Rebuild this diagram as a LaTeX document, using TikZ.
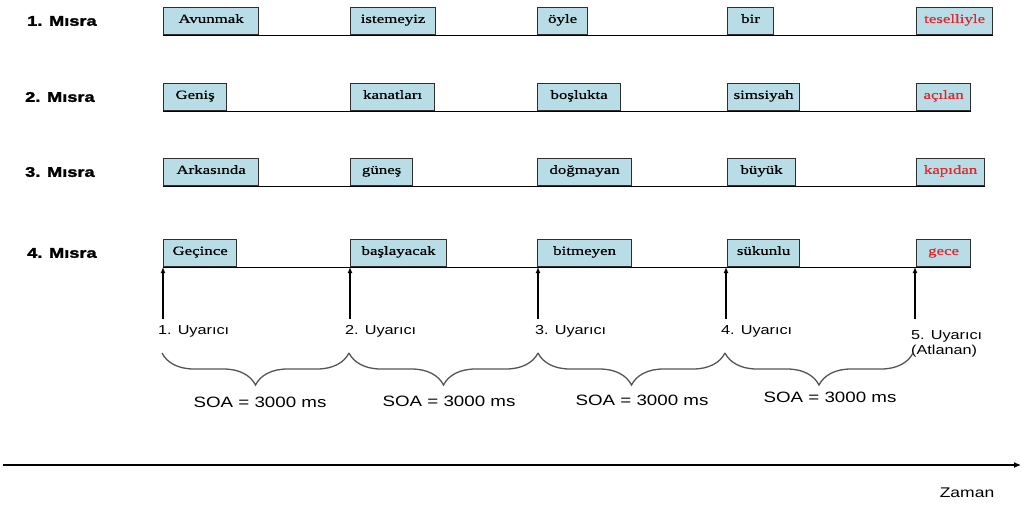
\documentclass[tikz,border=0pt]{standalone}
\usepackage{fontspec}
\setmainfont{Liberation Serif}
\newfontfamily\kelimefont[FakeStretch=1.35,FakeBold=0.5]{Liberation Serif}
\newfontfamily\etiketfont[FakeStretch=1.25]{Liberation Sans}
\newfontfamily\misrafont[FakeStretch=1.3,FakeBold=2]{Liberation Sans}
\usetikzlibrary{
  positioning,
  arrows.meta,
  decorations.pathreplacing
}
\definecolor{kutuMavi}{HTML}{B9DDE6}
\definecolor{kutuCizgi}{HTML}{2F2F2F}
\definecolor{sonKirmizi}{HTML}{E3242B}
\definecolor{parantezGri}{HTML}{555555}

\begin{document}
\begin{tikzpicture}[
  x=1pt, y=-1pt,
  every node/.style={inner sep=0pt},
  misra/.style={
    anchor=west,
    font=\misrafont\bfseries\fontsize{14pt}{16pt}\selectfont
  },
  kelime/.style={
    rectangle, draw=kutuCizgi, fill=kutuMavi, line width=1.2pt,
    anchor=south west, minimum width=#1, minimum height=27pt,
    text height=8pt, text depth=4pt,
    font=\kelimefont\fontsize{12.5pt}{14pt}\selectfont
  },
  kelime/.default=60pt,
  son/.style={text=sonKirmizi},
  cizgi/.style={line width=1pt},
  ok/.style={-{Latex[length=6pt,width=5pt]}, line width=1.2pt},
  uyari/.style={
    anchor=west, align=left,
    font=\etiketfont\fontsize{13pt}{15pt}\selectfont
  },
  parantez/.style={
    decorate, decoration={brace, mirror, amplitude=32pt},
    draw=parantezGri, line width=1.3pt
  },
  soa/.style={font=\etiketfont\fontsize{15pt}{17pt}\selectfont},
  eksen/.style={-{Latex[length=7pt,width=6pt]}, line width=1.2pt}
]
 \useasboundingbox (0,0) rectangle (1021,509);

 % Row 1 -- 5 words
 \node[misra]                   (m1) at ( 27, 21) {1. Mısra};
 \node[kelime=95pt]             (a1) at (163, 35) {Avunmak};
 \node[kelime=85pt]             (a2) at (350, 35) {istemeyiz};
 \node[kelime=50pt]             (a3) at (537, 35) {öyle};
 \node[kelime=46pt]             (a4) at (727, 35) {bir};
 \node[kelime=76pt, son]        (a5) at (916, 35) {teselliyle};
 \draw[cizgi] (a1.south west) -- (a5.south east);

 % Row 2 -- 5 words
 \node[misra]                   (m2) at ( 25, 97) {2. Mısra};
 \node[kelime=63pt]             (b1) at (163,111) {Geniş};
 \node[kelime=84pt]             (b2) at (350,111) {kanatları};
 \node[kelime=83pt]             (b3) at (537,111) {boşlukta};
 \node[kelime=72pt]             (b4) at (727,111) {simsiyah};
 \node[kelime=54pt, son]        (b5) at (916,111) {açılan};
 \draw[cizgi] (b1.south west) -- (b5.south east);

 % Row 3 -- 5 words
 \node[misra]                   (m3) at ( 25,172) {3. Mısra};
 \node[kelime=95pt]             (c1) at (163,186) {Arkasında};
 \node[kelime=62pt]             (c2) at (350,186) {güneş};
 \node[kelime=94pt]             (c3) at (537,186) {doğmayan};
 \node[kelime=68pt]             (c4) at (727,186) {büyük};
 \node[kelime=68pt, son]        (c5) at (916,186) {kapıdan};
 \draw[cizgi] (c1.south west) -- (c5.south east);

 % Row 4 -- 5 words, each one a stimulus
 \node[misra]                   (m4) at ( 27,253) {4. Mısra};
 \node[kelime=73pt]             (d1) at (163,267) {Geçince};
 \node[kelime=96pt]             (d2) at (350,267) {başlayacak};
 \node[kelime=94pt]             (d3) at (537,267) {bitmeyen};
 \node[kelime=72pt]             (d4) at (727,267) {sükunlu};
 \node[kelime=54pt, son]        (d5) at (916,267) {gece};
 \draw[cizgi] (d1.south west) -- (d5.south east);

 % stimulus arrows
 \coordinate (u1) at (163,319); \coordinate (u2) at (350,319);
 \coordinate (u3) at (538,319); \coordinate (u4) at (726,319);
 \coordinate (u5) at (915,319);
 \draw[ok] (u1) -- (u1 |- d1.south); \draw[ok] (u2) -- (u2 |- d2.south);
 \draw[ok] (u3) -- (u3 |- d3.south); \draw[ok] (u4) -- (u4 |- d4.south);
 \draw[ok] (u5) -- (u5 |- d5.south);

 \node[uyari] (y1) at (158,331) {1. Uyarıcı};
 \node[uyari] (y2) at (345,331) {2. Uyarıcı};
 \node[uyari] (y3) at (535,331) {3. Uyarıcı};
 \node[uyari] (y4) at (721,331) {4. Uyarıcı};
 \node[uyari, anchor=north west] (y5) at (911,330) {5. Uyarıcı\\(Atlanan)};

 % SOA braces
 \coordinate (k1) at (162,353); \coordinate (k2) at (349,353);
 \coordinate (k3) at (538,353); \coordinate (k4) at (725,353);
 \coordinate (k5) at (913,353);
 \draw[parantez] (k1) -- (k2); \draw[parantez] (k2) -- (k3);
 \draw[parantez] (k3) -- (k4); \draw[parantez] (k4) -- (k5);

 \node[soa] (s1) at (260,402) {SOA = 3000 ms};
 \node[soa] (s2) at (449,401) {SOA = 3000 ms};
 \node[soa] (s3) at (642,400) {SOA = 3000 ms};
 \node[soa] (s4) at (830,397) {SOA = 3000 ms};

 % time axis
 \coordinate (t0) at (3,465); \coordinate (t1) at (1021,465);
 \draw[eksen] (t0) -- (t1);
 \node[soa, font=\etiketfont\fontsize{14pt}{16pt}\selectfont] (z) at (967,493) {Zaman};
\end{tikzpicture}
\end{document}
